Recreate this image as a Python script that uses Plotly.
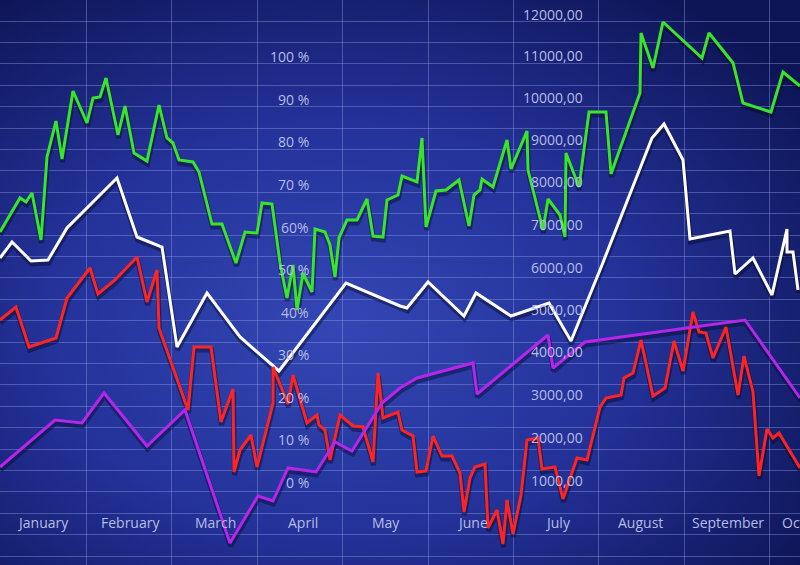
import plotly.graph_objects as go
import base64

# x: time index (0..800), y: index level (0..565, bottom-up)
green_x = [0,20,26,32,41,47,56,62,73,87,93,100,106,118,125,134,147,159,167,173,179,193,199,212,222,236,245,257,262,272,280,287,293,297,303,312,315,325,330,335,339,347,357,367,373,383,387,398,402,417,422,426,436,446,459,469,474,480,482,493,507,511,527,528,543,548,560,565,566,579,589,606,611,640,641,653,663,683,702,709,733,743,771,783,800]
green_py = [232,198,202,193,240,157,121,159,91,123,98,97,78,135,106,153,161,105,138,143,160,162,172,224,224,263,232,233,203,204,263,298,265,310,273,292,229,232,245,277,238,220,220,199,236,237,200,195,176,182,138,227,191,190,180,226,195,190,179,187,140,169,131,170,230,199,215,237,153,187,112,112,174,93,33,68,22,40,58,33,63,103,112,72,86]
white_x = [0,12,31,48,67,117,137,162,177,207,240,279,346,400,407,428,464,476,511,549,571,602,652,664,683,690,730,735,753,772,787,787,793,798]
white_py = [258,242,261,260,228,178,237,247,347,293,337,371,283,306,308,282,316,293,316,303,341,265,138,124,160,239,231,274,258,295,229,252,252,290]
red_x = [0,16,29,56,67,90,98,115,137,147,157,159,188,194,211,221,233,234,240,251,257,273,273,288,293,307,317,319,325,330,340,353,363,373,378,383,398,402,413,417,426,433,442,452,460,464,470,475,485,488,497,503,507,513,521,527,538,542,555,563,577,587,600,606,621,624,633,641,653,665,674,683,693,699,706,713,726,738,744,753,759,767,773,779,800]
red_py = [320,307,347,338,298,268,294,280,257,302,270,328,410,347,347,422,389,472,450,435,467,403,367,404,375,423,415,425,430,460,415,426,427,462,373,418,412,430,436,472,471,436,456,456,473,512,478,467,464,528,510,544,500,534,495,440,438,469,467,499,458,460,407,398,395,378,373,340,396,388,341,371,312,332,333,358,327,395,356,392,476,429,438,433,468]
purple_x = [0,55,82,104,147,185,230,258,273,288,316,335,352,382,400,417,473,477,548,553,585,745,800]
purple_py = [467,420,423,393,446,410,543,496,501,468,472,442,451,403,388,378,363,394,335,368,342,320,398]

months = ["January","February","March","April","May","June","July","August","September","October"]
month_x = [42,130,215,302,385,472,557,640,727,779]
pct_labels = ["100 %","90 %","80 %","70 %","60%","50 %","40%","30 %","20 %","10 %","0 %"]
pct_py = [56,99,141,184,227,269,312,354,397,439,482]
num_labels = ["12000,00","11000,00","10000,00","9000,00","8000,00","7000,00","6000,00","5000,00","4000,00","3000,00","2000,00","1000,00"]
num_py = [14,55,97,139,181,224,267,309,351,394,437,480]

H = 565
up = lambda ys: [H - v for v in ys]

svg = f'''<svg xmlns="http://www.w3.org/2000/svg" width="800" height="565">
<defs><radialGradient id="g" cx="42%" cy="58%" r="72%">
<stop offset="0" stop-color="#3347b4"/><stop offset="0.5" stop-color="#24329a"/>
<stop offset="1" stop-color="#0e1556"/></radialGradient></defs>
<rect width="800" height="565" fill="url(#g)"/></svg>'''
src = "data:image/svg+xml;base64," + base64.b64encode(svg.encode()).decode()

series = [(green_x, green_py, "#38e52a"), (white_x, white_py, "#ffffff"),
          (red_x, red_py, "#ff2424"), (purple_x, purple_py, "#b526ea")]

fig = go.Figure()
for xs, ys, c in series:
    fig.add_trace(go.Scatter(x=xs, y=up(ys), mode="lines",
                             line=dict(color="rgba(5,8,40,0.45)", width=5), hoverinfo="skip"))
for xs, ys, c in series:
    fig.add_trace(go.Scatter(x=xs, y=up(ys), mode="lines", xaxis="x2", yaxis="y2",
                             line=dict(color=c, width=3)))

ann = []
lab = dict(color="#b6bde6", size=14, family="Open Sans")
for t, x in zip(months, month_x):
    ann.append(dict(x=x, y=H-522, text=t, showarrow=False, font=lab, yshift=3,
                    xanchor="left" if t == "October" else "center", yanchor="middle"))
for t, y in zip(pct_labels, pct_py):
    ann.append(dict(x=310, y=H-y, text=t, showarrow=False, font=lab, yshift=3,
                    xanchor="right", yanchor="middle"))
for t, y in zip(num_labels, num_py):
    ann.append(dict(x=584, y=H-y, text=t, showarrow=False, font=lab, yshift=3,
                    xanchor="right", yanchor="middle"))

grid = dict(showgrid=True, gridcolor="rgba(150,160,230,0.4)", gridwidth=1,
            zeroline=False, showticklabels=False, ticks="")
fig.update_layout(
    width=800, height=565, margin=dict(l=0, r=0, t=0, b=0, pad=0), showlegend=False,
    paper_bgcolor="#141c5c", plot_bgcolor="rgba(0,0,0,0)",
    images=[dict(source=src, xref="paper", yref="paper", x=0, y=1, sizex=1, sizey=1,
                 sizing="stretch", layer="below")],
    xaxis=dict(range=[-0.5, 799.5], tick0=0.5, dtick=85.4, **grid),
    yaxis=dict(range=[3, H+3], tick0=12, dtick=21.4, **grid),
    xaxis2=dict(range=[0, 800], overlaying="x", visible=False),
    yaxis2=dict(range=[0, H], overlaying="y", visible=False),
    annotations=ann,
)
fig.write_html("out.html", config={"displayModeBar": False},
               post_script="document.body.style.margin='0';document.body.style.overflow='hidden';")
